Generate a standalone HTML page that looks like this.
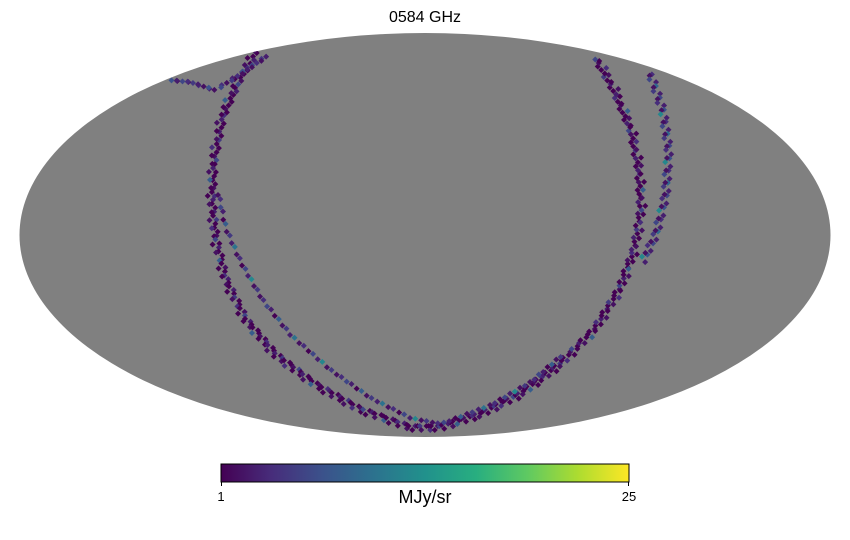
<!DOCTYPE html>
<html><head><meta charset="utf-8"><style>
body{margin:0;background:#fff;}
svg{display:block;font-family:"Liberation Sans","DejaVu Sans",sans-serif;}
</style></head><body>
<svg id="chart" width="850" height="540" viewBox="0 0 850 540">
<defs>
<linearGradient id="viridis" x1="0" x2="1" y1="0" y2="0">
<stop offset="0" stop-color="#440154"/><stop offset="0.125" stop-color="#472d7b"/><stop offset="0.25" stop-color="#3b528b"/><stop offset="0.375" stop-color="#2c728e"/><stop offset="0.5" stop-color="#21918c"/><stop offset="0.625" stop-color="#28ae80"/><stop offset="0.75" stop-color="#5ec962"/><stop offset="0.875" stop-color="#addc30"/><stop offset="1" stop-color="#fde725"/>
</linearGradient>
<clipPath id="ell"><ellipse cx="425" cy="235" rx="405.5" ry="202"/></clipPath>
</defs>
<text x="425" y="22" text-anchor="middle" font-size="16" fill="#000">0584 GHz</text>
<ellipse cx="425" cy="235" rx="405.5" ry="202" fill="#808080"/>
<g id="pix" clip-path="url(#ell)"></g>
<rect x="221" y="464" width="408" height="18" fill="url(#viridis)" stroke="#000" stroke-width="1"/>
<line x1="221.5" y1="482" x2="221.5" y2="486" stroke="#000"/>
<line x1="628.5" y1="482" x2="628.5" y2="486" stroke="#000"/>
<text x="221" y="501" text-anchor="middle" font-size="13">1</text>
<text x="629" y="501" text-anchor="middle" font-size="13">25</text>
<text x="425" y="503" text-anchor="middle" font-size="18">MJy/sr</text>
</svg>
<script>
const vmin = 1, vmax = 25;
const curveA = [[255,52],[238,80],[222,115],[213,160],[211,200],[215,240],[225,280],[245,320],[275,355],[315,385],[360,410],[410,428],[440,428],[480,415],[520,395],[560,365],[595,330],[620,290],[635,250],[642,210],[640,170],[632,130],[615,90],[595,55]];
const curveB = [[218,195],[225,228],[240,262],[262,300],[290,335],[330,370],[370,398],[410,418],[440,424],[490,405],[530,382],[565,352]];
const curveC = [[650,75],[662,110],[668,150],[665,195],[655,235],[640,265]];
const curveD = [[265,55],[240,72],[215,88],[190,80],[168,78]];
const valuesA = [1,2,1,3,1,1,5,2,1,1,4,1,2,1,6,1,1,3,1,2,1,1,8,1,2,1,1,4,1,3];
const valuesB = [2,4,6,3,1,8,2,5,3,10,2,4,1,6,3,12,2,5];
const valuesC = [4,2,6,3,9,2,5,3,6,2,4,3,7,2,12,3];
const valuesD = [3,5,2,4,6,2,3,7,2,4];
const stops=[[68,1,84],[71,45,123],[59,82,139],[44,114,142],[33,145,140],[40,174,128],[94,201,98],[173,220,48],[253,231,37]];
function viridis(v){let t=Math.max(0,Math.min(1,(v-vmin)/(vmax-vmin)))*8;const i=Math.min(7,Math.floor(t)),f=t-i;const a=stops[i],b=stops[i+1];return `rgb(${a.map((c,k)=>Math.round(c+(b[k]-c)*f)).join(',')})`;}
const g=document.getElementById('pix');const NS='http://www.w3.org/2000/svg';
function draw(curve,vals,name,w,skip){let idx=0,cnt=0;
 for(let s=0;s<curve.length-1;s++){const [x0,y0]=curve[s],[x1,y1]=curve[s+1];const L=Math.hypot(x1-x0,y1-y0);const n=Math.max(1,Math.round(L/4));
  for(let k=0;k<n;k++){const t=k/n;const x=x0+(x1-x0)*t,y=y0+(y1-y0)*t;
   for(let o=-w;o<=w;o+=4){cnt++;if(skip&&cnt%skip===0)continue;const nx=-(y1-y0)/L,ny=(x1-x0)/L;const px=x+nx*o+((cnt%3)-1)*1.5,py=y+ny*o;
    const d=document.createElementNS(NS,'polygon');
    d.setAttribute('points',`${px},${py-3} ${px+3},${py} ${px},${py+3} ${px-3},${py}`);
    d.setAttribute('fill',viridis(vals[idx%vals.length]));idx++;
    
    
    g.appendChild(d);}}}}
draw(curveA,valuesA,'scan-pixel-outer',2,4);
draw(curveB,valuesB,'scan-pixel-inner',0,3);
draw(curveC,valuesC,'scan-pixel-right',2,3);
draw(curveD,valuesD,'scan-pixel-top-left',2,2);
</script>
</body></html>
